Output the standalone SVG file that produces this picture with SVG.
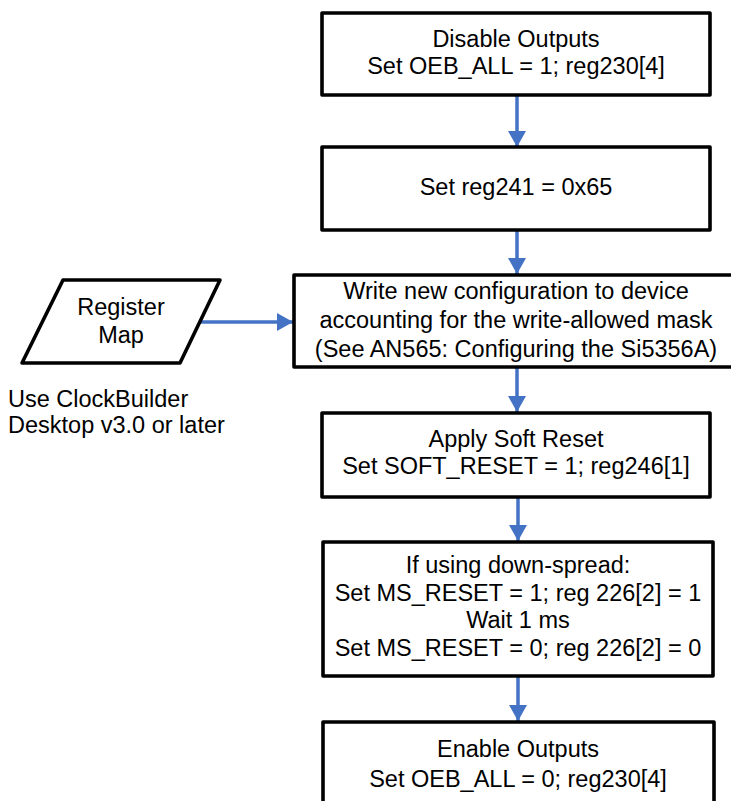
<svg xmlns="http://www.w3.org/2000/svg" width="731" height="801" viewBox="0 0 731 801">
<defs>
<style>
.box{fill:#fff;stroke:#000;stroke-width:3.6;stroke-linejoin:round}
.t{font-family:"Liberation Sans",Arial,sans-serif;font-size:23.5px;fill:#000;text-anchor:middle}
.tl{font-family:"Liberation Sans",Arial,sans-serif;font-size:23.5px;fill:#000}
.c{stroke:#4472C4;stroke-width:3.5;fill:none}
</style>
<marker id="ah" markerUnits="userSpaceOnUse" markerWidth="20" markerHeight="20" refX="16" refY="9" orient="auto">
<path d="M0,0 L16,9 L0,18 Z" fill="#4472C4"/>
</marker>
</defs>
<rect width="731" height="801" fill="#fff"/>
<g id="connectors">
<line class="c" x1="517" y1="96" x2="517" y2="147" marker-end="url(#ah)"/>
<line class="c" x1="517" y1="231" x2="517" y2="274" marker-end="url(#ah)"/>
<line class="c" x1="517" y1="368" x2="517" y2="412" marker-end="url(#ah)"/>
<line class="c" x1="518" y1="498" x2="518" y2="541" marker-end="url(#ah)"/>
<line class="c" x1="518" y1="677" x2="518" y2="721" marker-end="url(#ah)"/>
<line class="c" x1="197" y1="322" x2="293" y2="322" marker-end="url(#ah)"/>
</g>
<g id="n1">
<rect class="box" x="322" y="13" width="388" height="82"/>
<text class="t" x="516" y="47">Disable Outputs</text>
<text class="t" x="516" y="74">Set OEB_ALL = 1; reg230[4]</text>
</g>
<g id="n2">
<rect class="box" x="322" y="147" width="388" height="83"/>
<text class="t" x="516" y="195">Set reg241 = 0x65</text>
</g>
<g id="n3">
<rect class="box" x="294" y="275" width="445" height="92"/>
<text class="t" x="516" y="299">Write new configuration to device</text>
<text class="t" x="516" y="328">accounting for the write-allowed mask</text>
<text class="t" x="516" y="357">(See AN565: Configuring the Si5356A)</text>
</g>
<g id="n4">
<rect class="box" x="322" y="413" width="388" height="84"/>
<text class="t" x="516" y="447">Apply Soft Reset</text>
<text class="t" x="516" y="474">Set SOFT_RESET = 1; reg246[1]</text>
</g>
<g id="n5">
<rect class="box" x="323" y="542" width="390" height="134"/>
<text class="t" x="518" y="573">If using down-spread:</text>
<text class="t" x="518" y="601">Set MS_RESET = 1; reg 226[2] = 1</text>
<text class="t" x="518" y="628">Wait 1 ms</text>
<text class="t" x="518" y="656">Set MS_RESET = 0; reg 226[2] = 0</text>
</g>
<g id="n6">
<rect class="box" x="323" y="722" width="391" height="100"/>
<text class="t" x="518" y="757">Enable Outputs</text>
<text class="t" x="518" y="787">Set OEB_ALL = 0; reg230[4]</text>
</g>
<g id="regmap">
<polygon class="box" points="63,280 220,280 180,363 22,363"/>
<text class="t" x="121" y="315">Register</text>
<text class="t" x="121" y="343">Map</text>
</g>
<g id="note">
<text class="tl" x="8" y="407">Use ClockBuilder</text>
<text class="tl" x="8" y="433">Desktop v3.0 or later</text>
</g>
</svg>
